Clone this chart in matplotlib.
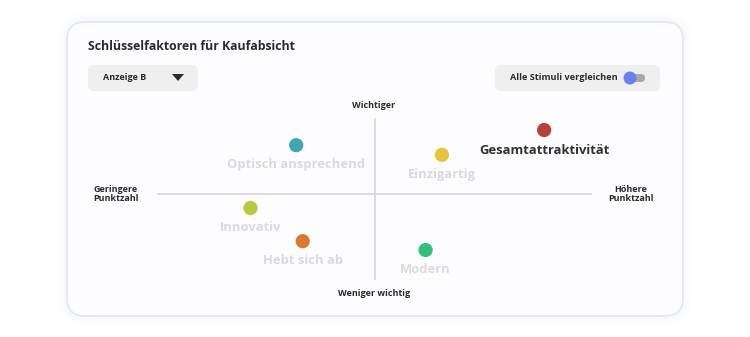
"""Key purchase-intent factors: quadrant scatter inside a dashboard card."""

import matplotlib
matplotlib.use("Agg")
import matplotlib.pyplot as plt
from matplotlib.patches import FancyBboxPatch, Circle, Polygon

plt.rcParams["font.family"] = ["Open Sans", "DejaVu Sans"]

factors = ["Optisch ansprechend", "Gesamtattraktivität", "Einzigartig",
           "Innovativ", "Hebt sich ab", "Modern"]
score = [-36, 78, 31, -57, -33, 23.5]          # x: geringere -> höhere Punktzahl
importance = [61, 80, 49, -17.5, -59, -70]     # y: weniger -> mehr wichtig
colors = ["#3ea7b1", "#b8413a", "#e6c43c", "#b6cc3d", "#d87b31", "#31c17a"]
highlight = "Gesamtattraktivität"

W, H = 750, 337
fig = plt.figure(figsize=(W / 100, H / 100), dpi=100)
fig.patch.set_facecolor("white")

# background layer in pixel coords for the card and controls
bg = fig.add_axes([0, 0, 1, 1])
bg.set_xlim(0, W); bg.set_ylim(H, 0); bg.axis("off")

for grow, alpha in [(9, 0.04), (6, 0.07), (3, 0.11)]:
    bg.add_patch(FancyBboxPatch((67 - grow, 22 - grow), 616 + 2 * grow, 294 + 2 * grow,
                                boxstyle=f"round,pad=0,rounding_size={18 + grow}",
                                fc="#dfe3fb", ec="none", alpha=alpha))
bg.add_patch(FancyBboxPatch((67, 22), 616, 294, boxstyle="round,pad=0,rounding_size=18",
                            fc="#fdfdff", ec="#e3e6fb", lw=1.3))

bg.text(88, 46, "Schlüsselfaktoren für Kaufabsicht", fontsize=8.8, fontweight="bold",
        color="#2b2b2b", va="center", ha="left")

# dropdown
bg.add_patch(FancyBboxPatch((88, 65), 110, 26, boxstyle="round,pad=0,rounding_size=6",
                            fc="#efefef", ec="none"))
bg.text(103, 78, "Anzeige B", fontsize=6.5, fontweight="bold", color="#2b2b2b",
        va="center", ha="left")
bg.add_patch(Polygon([(172, 74), (184, 74), (178, 81)], closed=True, fc="#2b2b2b", ec="none"))

# compare toggle
bg.add_patch(FancyBboxPatch((495, 65), 165, 26, boxstyle="round,pad=0,rounding_size=6",
                            fc="#efefef", ec="none"))
bg.text(510, 78, "Alle Stimuli vergleichen", fontsize=6.6, fontweight="bold",
        color="#2b2b2b", va="center", ha="left")
bg.add_patch(FancyBboxPatch((626, 74), 19, 8, boxstyle="round,pad=0,rounding_size=4",
                            fc="#a9a9a9", ec="none"))
bg.add_patch(Circle((630, 78), 6.5, fc="#6b80ec", ec="none"))

# axis captions
cap = dict(fontsize=6.5, fontweight="bold", color="#2b2b2b", ha="center", va="center",
           linespacing=0.95)
bg.text(374, 105, "Wichtiger", **cap)
bg.text(374, 293, "Weniger wichtig", **cap)
bg.text(116, 194, "Geringere\nPunktzahl", **cap)
bg.text(631, 194, "Höhere\nPunktzahl", **cap)

# quadrant axes in data coords
ax = fig.add_axes([157 / W, (H - 280) / H, (592 - 157) / W, (280 - 118) / H])
ax.set_xlim(-100, 100); ax.set_ylim(-107.5, 95)
ax.axis("off")
ax.plot([-100, 100], [0, 0], color="#d6d6d6", lw=1.2, zorder=1)
ax.plot([0, 0], [-107.5, 95], color="#d6d6d6", lw=1.2, zorder=1)

ax.scatter(score, importance, s=105, c=colors, zorder=3, linewidths=0)
for name, x, y in zip(factors, score, importance):
    hot = name == highlight
    ax.annotate(name, (x, y), xytext=(0, -14.5 if hot else -14), textcoords="offset points",
                ha="center", va="center", fontsize=9.4,
                fontweight="bold", color="#2f3336" if hot else "#dadada",
                annotation_clip=False)

fig.savefig("out.png", dpi=100, facecolor="white")
